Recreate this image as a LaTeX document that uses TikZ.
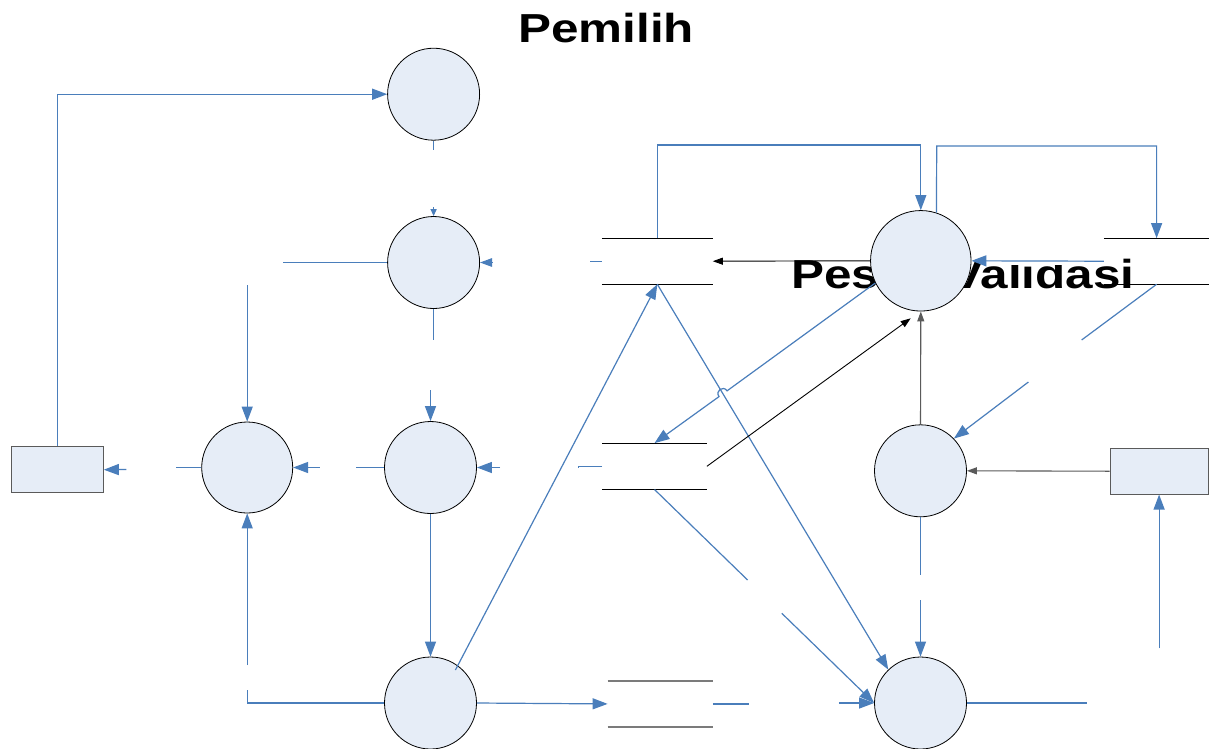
\documentclass[tikz,border=0pt]{standalone}
\usepackage{fontspec}
\newfontfamily\titlefont{Liberation Sans}
\usetikzlibrary{arrows.meta}
\definecolor{lblue}{RGB}{74,126,187}
\definecolor{cfill}{RGB}{230,237,247}
\definecolor{gline}{RGB}{90,90,90}
\newcommand\mytitle{\titlefont\bfseries\fontsize{40.5}{45}\selectfont}
\tikzset{
  proc/.style={circle, draw=black, line width=0.8pt, fill=cfill, minimum size=92pt, inner sep=0pt},
  ext/.style={rectangle, draw=gline, line width=1pt, fill=cfill, inner sep=0pt},
  store/.style={rectangle, inner sep=0pt, minimum height=45.7pt},
  flow/.style={draw=lblue, line width=1.2pt},
  arr/.style={-{Triangle[length=15pt,width=11pt]}},
  marr/.style={-{Triangle[length=12pt,width=8.5pt]}},
  sarr/.style={-{Triangle[length=7pt,width=6pt]}},
  bflow/.style={draw=black, line width=0.9pt, -{Triangle[length=10pt,width=7pt]}},
  gflow/.style={draw=gline, line width=1.1pt, -{Triangle[length=10pt,width=7pt]}},
  sline/.style={draw=black, line width=1pt},
  gsline/.style={draw=gline!80, line width=1.6pt}
}
\begin{document}
\begin{tikzpicture}[x=1pt,y=-1pt]
\useasboundingbox (0,0) rectangle (1209,748);
\clip (0,0) rectangle (1209,748);
\fill[white] (0,0) rectangle (1209,748);
% titles
\node[anchor=base west, inner sep=0pt] (t1) at (518,42.3) {\scalebox{1.22}[1]{\mytitle Pemilih}};
\node[anchor=base west, inner sep=0pt] (t2) at (791,288.3) {\scalebox{1.22}[1]{\mytitle Pesan Validasi}};
\fill[white] (1003,246) rectangle (1068,265);
% processes
\node[proc] (c1) at (433.6,94.2) {};
\node[proc] (c2) at (433.6,262.5) {};
\node[proc] (c3) at (430.5,467.5) {};
\node[proc, minimum size=91pt] (c4) at (247.2,467.5) {};
\node[proc] (c5) at (430.5,703) {};
\node[proc] (cq) at (920.5,470.8) {};
\node[proc] (c6) at (920.5,703) {};
% externals
\node[ext, minimum width=91.8pt, minimum height=46pt] (r1) at (57.4,469.7) {};
\node[ext, minimum width=98.2pt, minimum height=45.7pt] (r2) at (1159.1,471.2) {};
% stores
\node[store, minimum width=110.6pt] (d1) at (657.3,261.2) {};
\node[store, minimum width=104.4pt, minimum height=46pt] (d2) at (654.5,466.3) {};
\node[store, minimum width=104.8pt] (d3) at (660.2,703.9) {};
\node[store, minimum width=105.2pt] (d4) at (1156.6,261.2) {};
\draw[sline] (d1.north west) -- (d1.north east) (d1.south west) -- (d1.south east);
\draw[sline] (d2.north west) -- (d2.north east) (d2.south west) -- (d2.south east);
\draw[gsline] (d3.north west) -- (d3.north east) (d3.south west) -- (d3.south east);
\draw[sline] (d4.north west) -- (d4.north east) (d4.south west) -- (d4.south east);
% flows, left part
\draw[flow,arr] (r1.north) |- (c1.west);
\draw[flow] (c1.south) -- (433.6,150);
\draw[flow,sarr] (433.6,207) -- (c2.north);
\draw[flow] (c2.west) -- (283,262.5);
\draw[flow,arr] (247.2,285) -- (c4.north);
\draw[flow] (c2.south) -- (433.6,340);
\draw[flow,arr] (430.5,390) -- (c3.north);
\draw[flow] (d1.west) -- ++(-12,0);
\draw[flow,marr] (492,262.5) -- (c2.east);
\draw[flow] (c3.west) -- (356,467.5);
\draw[flow,arr] (319.6,467.5) -- (c4.east);
\draw[flow] (c4.west) -- (176,467.5);
\draw[flow,arr] (126.3,469.5) -- (r1.east);
\draw[flow] (d2.west) -- (578.7,466.3) -- ++(0,1.5);
\draw[flow,arr] (500.2,467.5) -- (c3.east);
\draw[flow,arr] (c3.south) -- (c5.north);
\draw[flow] (c5.west) -| (247.2,690);
\draw[flow,arr] (247.2,665) -- (c4.south);
\draw[flow,arr] (455.4,670) -- (d1.south);
\draw[flow,arr] (c5.east) -- (d3.west);
% flows, right part
\draw[flow] (d3.east) -- (748.8,703.9);
\draw[flow,arr] (838.9,703) -- (c6.west);
\draw[flow,arr] (d1.south) -- (c6.134);
\draw[flow] (d2.south) -- (747.6,580);
\draw[flow,arr] (781.8,613.3) -- (c6.west);
\draw[flow] (cq.south) -- (920.5,575);
\draw[flow,arr] (920.5,600) -- (c6.north);
\draw[flow] (c6.east) -- (1087.4,703);
\draw[flow,arr] (1159.1,648.3) -- (r2.south);
\draw[gflow] (r2.west) -- (cq.east);
% top process
\node[proc, minimum size=100.5pt] (cp) at (920.8,260.8) {};
\draw[gflow] (cq.north) -- (cp.south);
\draw[bflow] (d2.east) -- (910.7,318.3);
\draw[bflow] (cp.west) -- (d1.east);
\draw[flow,arr] (d1.north) -- (657.3,145) -| (cp.north);
\draw[flow,arr] (cp.72) -- (936.7,146) -| (d4.north);
\draw[flow,arr] (d4.west) -- (cp.east);
\draw[flow] (d4.south) -- (1081.6,340);
\draw[flow,arr] (1028.4,382) -- (cq.44);
\coordinate (hopA) at (727.1,390.8);
\coordinate (hopB) at (719.0,396.6);
\draw[flow,arr] (cp.206) -- (hopA) .. controls (723.0,385.1) and (714.9,390.9) .. (hopB) -- (d2.north);
\end{tikzpicture}
\end{document}
